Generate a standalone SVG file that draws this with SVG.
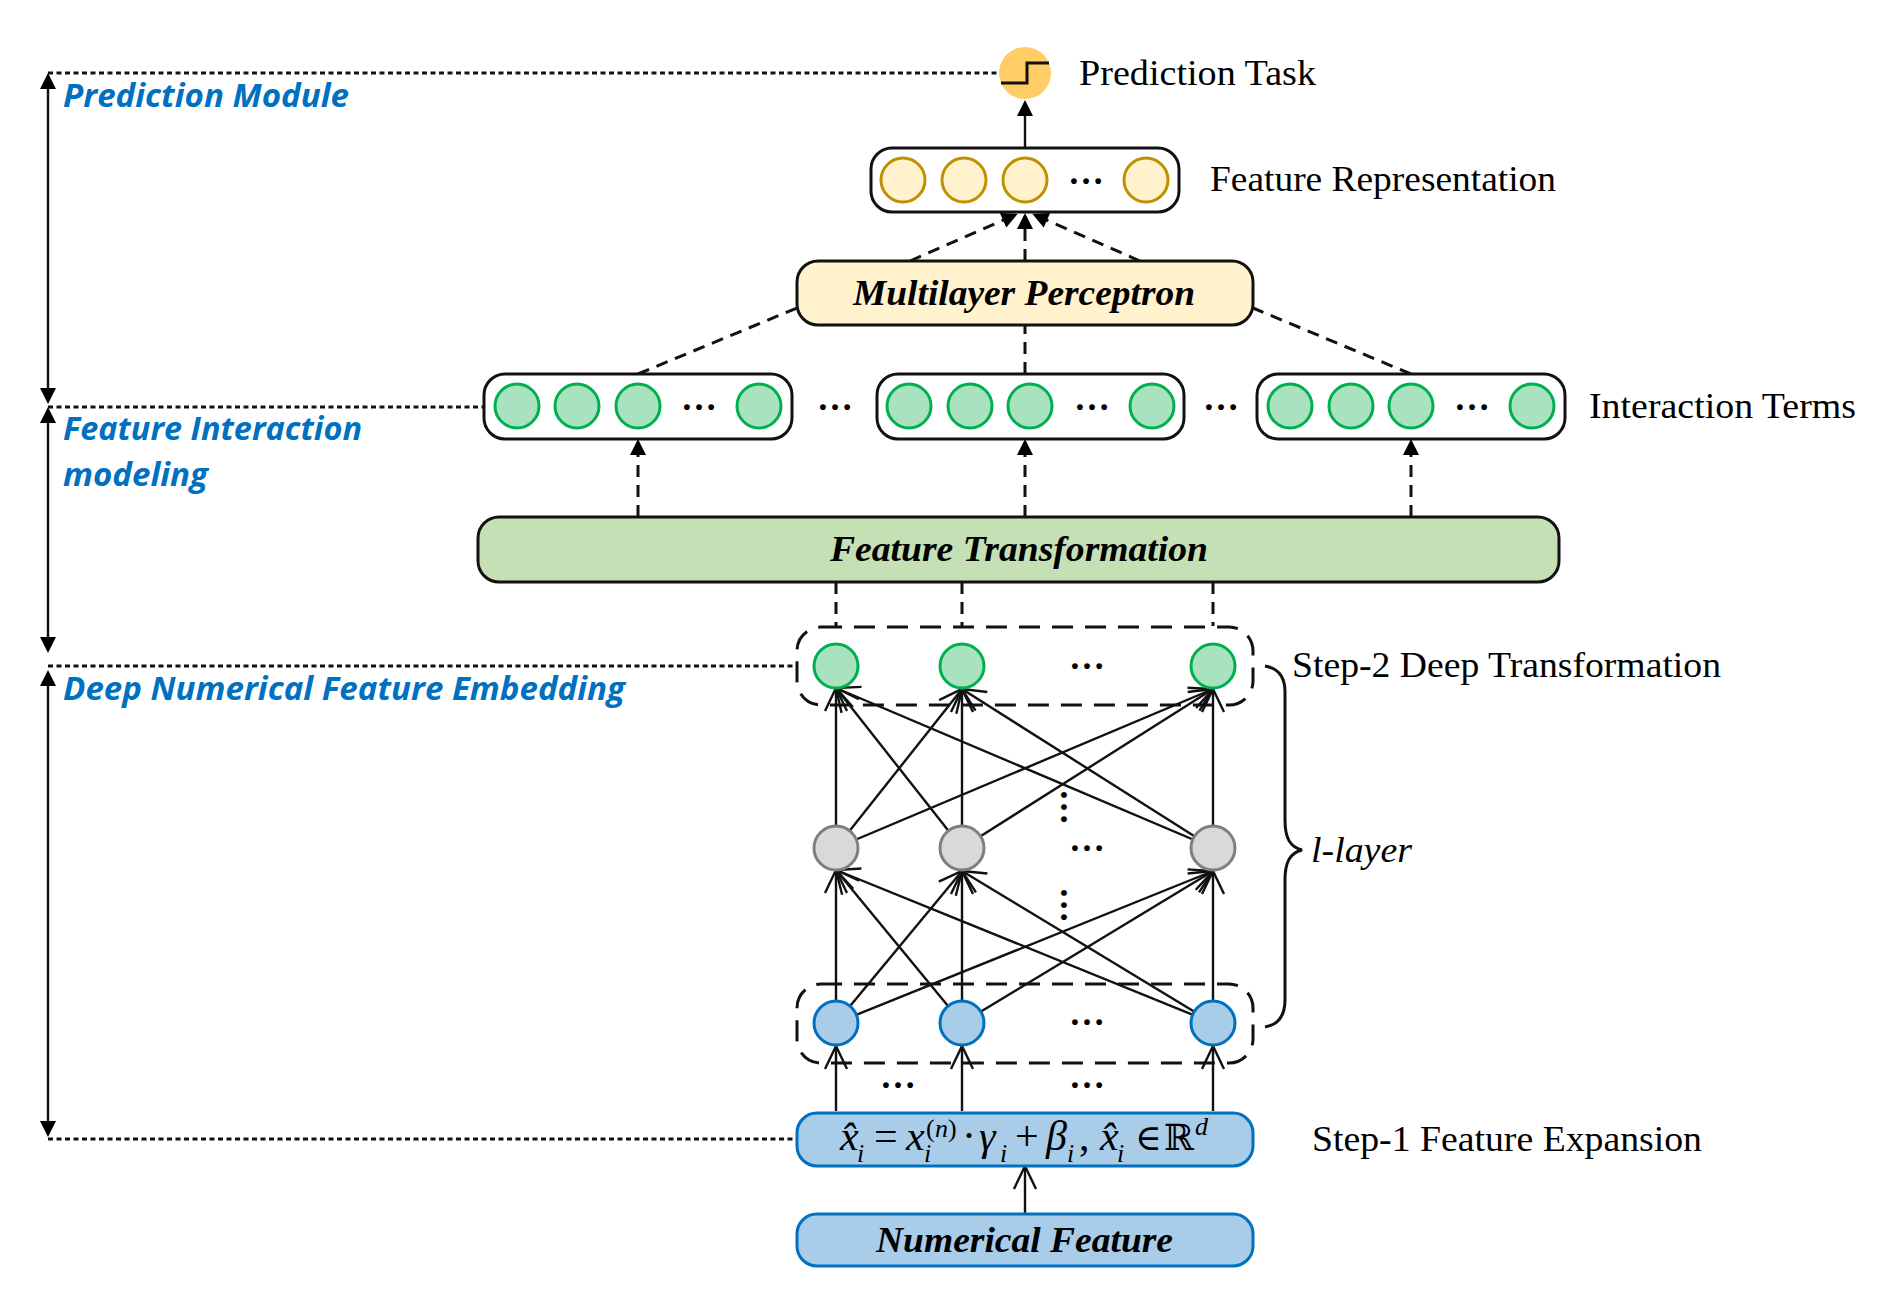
<svg xmlns="http://www.w3.org/2000/svg" width="1881" height="1303" viewBox="0 0 1881 1303">
<style>
.c{fill:none;stroke:#111;stroke-width:2.4}
.d{fill:none;stroke:#111;stroke-width:3;stroke-dasharray:12 8}
.o{fill:none;stroke:#111;stroke-width:2.8;stroke-dasharray:5 3.5}
.box{fill:#fff;stroke:#111;stroke-width:3}
.dbox{fill:none;stroke:#111;stroke-width:3;stroke-dasharray:21 12}
.y{fill:#FFF2CC;stroke:#BF9000;stroke-width:3}
.g{fill:#A8E2BF;stroke:#00B050;stroke-width:3}
.n{fill:#D9D9D9;stroke:#7F7F7F;stroke-width:3}
.b{fill:#A9CDE8;stroke:#0070C0;stroke-width:3}
.bb{fill:#A9CDE8;stroke:#0070C0;stroke-width:3}
text{font-family:"Liberation Serif","Times New Roman",serif;fill:#000}
.t{font-size:36px}
.h{font-size:36px;font-weight:bold;font-style:italic}
.m{font-size:32px;fill:#0070C0;font-weight:bold;font-style:italic;font-family:"Open Sans","Noto Sans",sans-serif}
.e{font-size:36px;font-weight:bold;text-anchor:middle}
.f{font-size:42px}
.i{font-style:italic}
.s{font-size:26px}
.k{font-family:"DejaVu Serif","Liberation Serif",serif;font-size:36px}
</style>
<defs>
<marker id="tri" markerUnits="userSpaceOnUse" markerWidth="20" markerHeight="20" viewBox="0 -10 18 20" refX="13" refY="0" orient="auto-start-reverse"><path d="M0 -8L16 0L0 8Z" fill="#000"/></marker>
<marker id="open" markerUnits="userSpaceOnUse" markerWidth="30" markerHeight="30" viewBox="-26 -15 30 30" refX="0" refY="0" orient="auto"><path d="M-23 -11L0 0L-23 11" fill="none" stroke="#111" stroke-width="2.4"/></marker>
</defs>

<g id="connectors">
<line class="o" x1="48" y1="73" x2="1000" y2="73"/>
<line class="o" x1="48" y1="407" x2="484" y2="407"/>
<line class="o" x1="48" y1="666" x2="797" y2="666"/>
<line class="o" x1="48" y1="1139" x2="796" y2="1139"/>
<line class="c" x1="48" y1="76" x2="48" y2="401" marker-start="url(#tri)" marker-end="url(#tri)"/>
<line class="c" x1="48" y1="410" x2="48" y2="650" marker-start="url(#tri)" marker-end="url(#tri)"/>
<line class="c" x1="48" y1="673" x2="48" y2="1134" marker-start="url(#tri)" marker-end="url(#tri)"/>

<line class="c" x1="1025" y1="147" x2="1025" y2="103" marker-end="url(#tri)"/>
<line class="d" x1="910" y1="261" x2="1015" y2="215" marker-end="url(#tri)"/>
<line class="d" x1="1025" y1="261" x2="1025" y2="216" marker-end="url(#tri)"/>
<line class="d" x1="1140" y1="261" x2="1035" y2="215" marker-end="url(#tri)"/>
<line class="d" x1="638" y1="374" x2="797" y2="308"/>
<line class="d" x1="1025" y1="374" x2="1025" y2="325"/>
<line class="d" x1="1411" y1="374" x2="1253" y2="308"/>
<line class="d" x1="638" y1="517" x2="638" y2="442" marker-end="url(#tri)"/>
<line class="d" x1="1025" y1="517" x2="1025" y2="442" marker-end="url(#tri)"/>
<line class="d" x1="1411" y1="517" x2="1411" y2="442" marker-end="url(#tri)"/>
<line class="d" x1="836" y1="582" x2="836" y2="626"/>
<line class="d" x1="962" y1="582" x2="962" y2="626"/>
<line class="d" x1="1213" y1="582" x2="1213" y2="626"/>

<line class="c" x1="836" y1="848" x2="836" y2="688" marker-end="url(#open)"/>
<line class="c" x1="836" y1="848" x2="962" y2="689" marker-end="url(#open)"/>
<line class="c" x1="836" y1="848" x2="1213" y2="689" marker-end="url(#open)"/>
<line class="c" x1="962" y1="848" x2="836" y2="688" marker-end="url(#open)"/>
<line class="c" x1="962" y1="848" x2="962" y2="689" marker-end="url(#open)"/>
<line class="c" x1="962" y1="848" x2="1213" y2="689" marker-end="url(#open)"/>
<line class="c" x1="1213" y1="848" x2="836" y2="688" marker-end="url(#open)"/>
<line class="c" x1="1213" y1="848" x2="962" y2="689" marker-end="url(#open)"/>
<line class="c" x1="1213" y1="848" x2="1213" y2="689" marker-end="url(#open)"/>

<line class="c" x1="836" y1="1023" x2="836" y2="870" marker-end="url(#open)"/>
<line class="c" x1="836" y1="1023" x2="962" y2="871" marker-end="url(#open)"/>
<line class="c" x1="836" y1="1023" x2="1213" y2="871" marker-end="url(#open)"/>
<line class="c" x1="962" y1="1023" x2="836" y2="870" marker-end="url(#open)"/>
<line class="c" x1="962" y1="1023" x2="962" y2="871" marker-end="url(#open)"/>
<line class="c" x1="962" y1="1023" x2="1213" y2="871" marker-end="url(#open)"/>
<line class="c" x1="1213" y1="1023" x2="836" y2="870" marker-end="url(#open)"/>
<line class="c" x1="1213" y1="1023" x2="962" y2="871" marker-end="url(#open)"/>
<line class="c" x1="1213" y1="1023" x2="1213" y2="871" marker-end="url(#open)"/>

<line class="c" x1="836" y1="1111" x2="836" y2="1046" marker-end="url(#open)"/>
<line class="c" x1="962" y1="1111" x2="962" y2="1046" marker-end="url(#open)"/>
<line class="c" x1="1213" y1="1111" x2="1213" y2="1046" marker-end="url(#open)"/>
<line class="c" x1="1025" y1="1214" x2="1025" y2="1166" marker-end="url(#open)"/>
</g>

<g id="module-labels">
<text class="m" x="63" y="107" textLength="286" lengthAdjust="spacingAndGlyphs">Prediction Module</text>
<text class="m" x="63" y="440" textLength="299" lengthAdjust="spacingAndGlyphs">Feature Interaction</text>
<text class="m" x="63" y="486" textLength="145" lengthAdjust="spacingAndGlyphs">modeling</text>
<text class="m" x="63" y="700" textLength="562" lengthAdjust="spacingAndGlyphs">Deep Numerical Feature Embedding</text>
</g>

<g id="prediction-task">
<circle cx="1025" cy="73" r="26" fill="#FFCC66"/>
<path d="M1001 83H1027V63H1049" fill="none" stroke="#111" stroke-width="3"/>
<text class="t" x="1079" y="85" textLength="237" lengthAdjust="spacingAndGlyphs">Prediction Task</text>
</g>

<g id="feature-representation">
<rect class="box" x="871" y="148" width="308" height="64" rx="21"/>
<circle class="y" cx="903" cy="180" r="22"/><circle class="y" cx="964" cy="180" r="22"/><circle class="y" cx="1025" cy="180" r="22"/><circle class="y" cx="1146" cy="180" r="22"/>
<text class="e" x="1086" y="184">…</text>
<text class="t" x="1210" y="191" textLength="346" lengthAdjust="spacingAndGlyphs">Feature Representation</text>
</g>

<g id="mlp">
<rect x="797" y="261" width="456" height="64" rx="21" fill="#FFF2CC" stroke="#111" stroke-width="3"/>
<text class="h" x="853" y="305" textLength="342" lengthAdjust="spacingAndGlyphs">Multilayer Perceptron</text>
</g>

<g id="interaction-1">
<rect class="box" x="484" y="374" width="308" height="65" rx="21"/>
<circle class="g" cx="517" cy="406" r="22"/><circle class="g" cx="577" cy="406" r="22"/><circle class="g" cx="638" cy="406" r="22"/><circle class="g" cx="759" cy="406" r="22"/>
<text class="e" x="699" y="410">…</text>
</g>
<text class="e" x="835" y="410">…</text>
<g id="interaction-2">
<rect class="box" x="877" y="374" width="307" height="65" rx="21"/>
<circle class="g" cx="909" cy="406" r="22"/><circle class="g" cx="970" cy="406" r="22"/><circle class="g" cx="1030" cy="406" r="22"/><circle class="g" cx="1152" cy="406" r="22"/>
<text class="e" x="1092" y="410">…</text>
</g>
<text class="e" x="1221" y="410">…</text>
<g id="interaction-3">
<rect class="box" x="1257" y="374" width="308" height="65" rx="21"/>
<circle class="g" cx="1290" cy="406" r="22"/><circle class="g" cx="1351" cy="406" r="22"/><circle class="g" cx="1411" cy="406" r="22"/><circle class="g" cx="1532" cy="406" r="22"/>
<text class="e" x="1472" y="410">…</text>
<text class="t" x="1589" y="418" textLength="267" lengthAdjust="spacingAndGlyphs">Interaction Terms</text>
</g>

<g id="feature-transformation">
<rect x="478" y="517" width="1081" height="65" rx="21" fill="#C5E0B4" stroke="#111" stroke-width="3"/>
<text class="h" x="830" y="561" textLength="378" lengthAdjust="spacingAndGlyphs">Feature Transformation</text>
</g>

<g id="deep-output-layer">
<rect class="dbox" x="797" y="627" width="456" height="78" rx="24"/>
<circle class="g" cx="836" cy="666" r="22"/><circle class="g" cx="962" cy="666" r="22"/><circle class="g" cx="1213" cy="666" r="22"/>
<text class="e" x="1087" y="669">…</text>
<text class="t" x="1292" y="677" textLength="429" lengthAdjust="spacingAndGlyphs">Step-2 Deep Transformation</text>
</g>

<g id="hidden-layer">
<circle class="n" cx="836" cy="848" r="22"/><circle class="n" cx="962" cy="848" r="22"/><circle class="n" cx="1213" cy="848" r="22"/>
<text class="e" x="1087" y="851">…</text>
<text class="e" transform="translate(1061 807) rotate(90)" x="0" y="0">…</text>
<text class="e" transform="translate(1061 905) rotate(90)" x="0" y="0">…</text>
</g>

<g id="l-layer-brace">
<path d="M1265 666C1277 668 1285 676 1285 692V820C1285 838 1290 847 1302 850C1290 853 1285 862 1285 880V1000C1285 1018 1277 1025 1265 1027" fill="none" stroke="#111" stroke-width="3"/>
<text class="t i" x="1311" y="862" textLength="101" lengthAdjust="spacingAndGlyphs">l-layer</text>
</g>

<g id="input-layer">
<rect class="dbox" x="797" y="984" width="456" height="79" rx="24"/>
<circle class="b" cx="836" cy="1023" r="22"/><circle class="b" cx="962" cy="1023" r="22"/><circle class="b" cx="1213" cy="1023" r="22"/>
<text class="e" x="1087" y="1025">…</text>
<text class="e" x="898" y="1088">…</text>
<text class="e" x="1087" y="1088">…</text>
</g>

<g id="feature-expansion">
<rect class="bb" x="797" y="1113" width="456" height="53" rx="20"/>
<text class="f"><tspan class="i" x="840" y="1150">x̂</tspan><tspan class="s i" x="857" y="1162">i</tspan><tspan x="874" y="1150">=</tspan><tspan class="i" x="906" y="1150">x</tspan><tspan class="s i" x="924" y="1162">i</tspan><tspan class="s" x="926" y="1137">(</tspan><tspan class="s i" x="935" y="1137">n</tspan><tspan class="s" x="948" y="1137">)</tspan><tspan x="962" y="1150">·</tspan><tspan class="i" x="979" y="1150">γ</tspan><tspan class="s i" x="1000" y="1162">i</tspan><tspan x="1015" y="1150">+</tspan><tspan class="i" x="1046" y="1150">β</tspan><tspan class="s i" x="1067" y="1162">i</tspan><tspan x="1079" y="1150">,</tspan><tspan class="i" x="1100" y="1150">x̂</tspan><tspan class="s i" x="1117" y="1162">i</tspan><tspan class="k" x="1135" y="1150">∈</tspan><tspan class="k" x="1164" y="1150">ℝ</tspan><tspan class="s i" x="1195" y="1135">d</tspan></text>
<text class="t" x="1312" y="1151" textLength="390" lengthAdjust="spacingAndGlyphs">Step-1 Feature Expansion</text>
</g>

<g id="numerical-feature">
<rect class="bb" x="797" y="1214" width="456" height="52" rx="20"/>
<text class="h" x="876" y="1252" textLength="297" lengthAdjust="spacingAndGlyphs">Numerical Feature</text>
</g>
</svg>
